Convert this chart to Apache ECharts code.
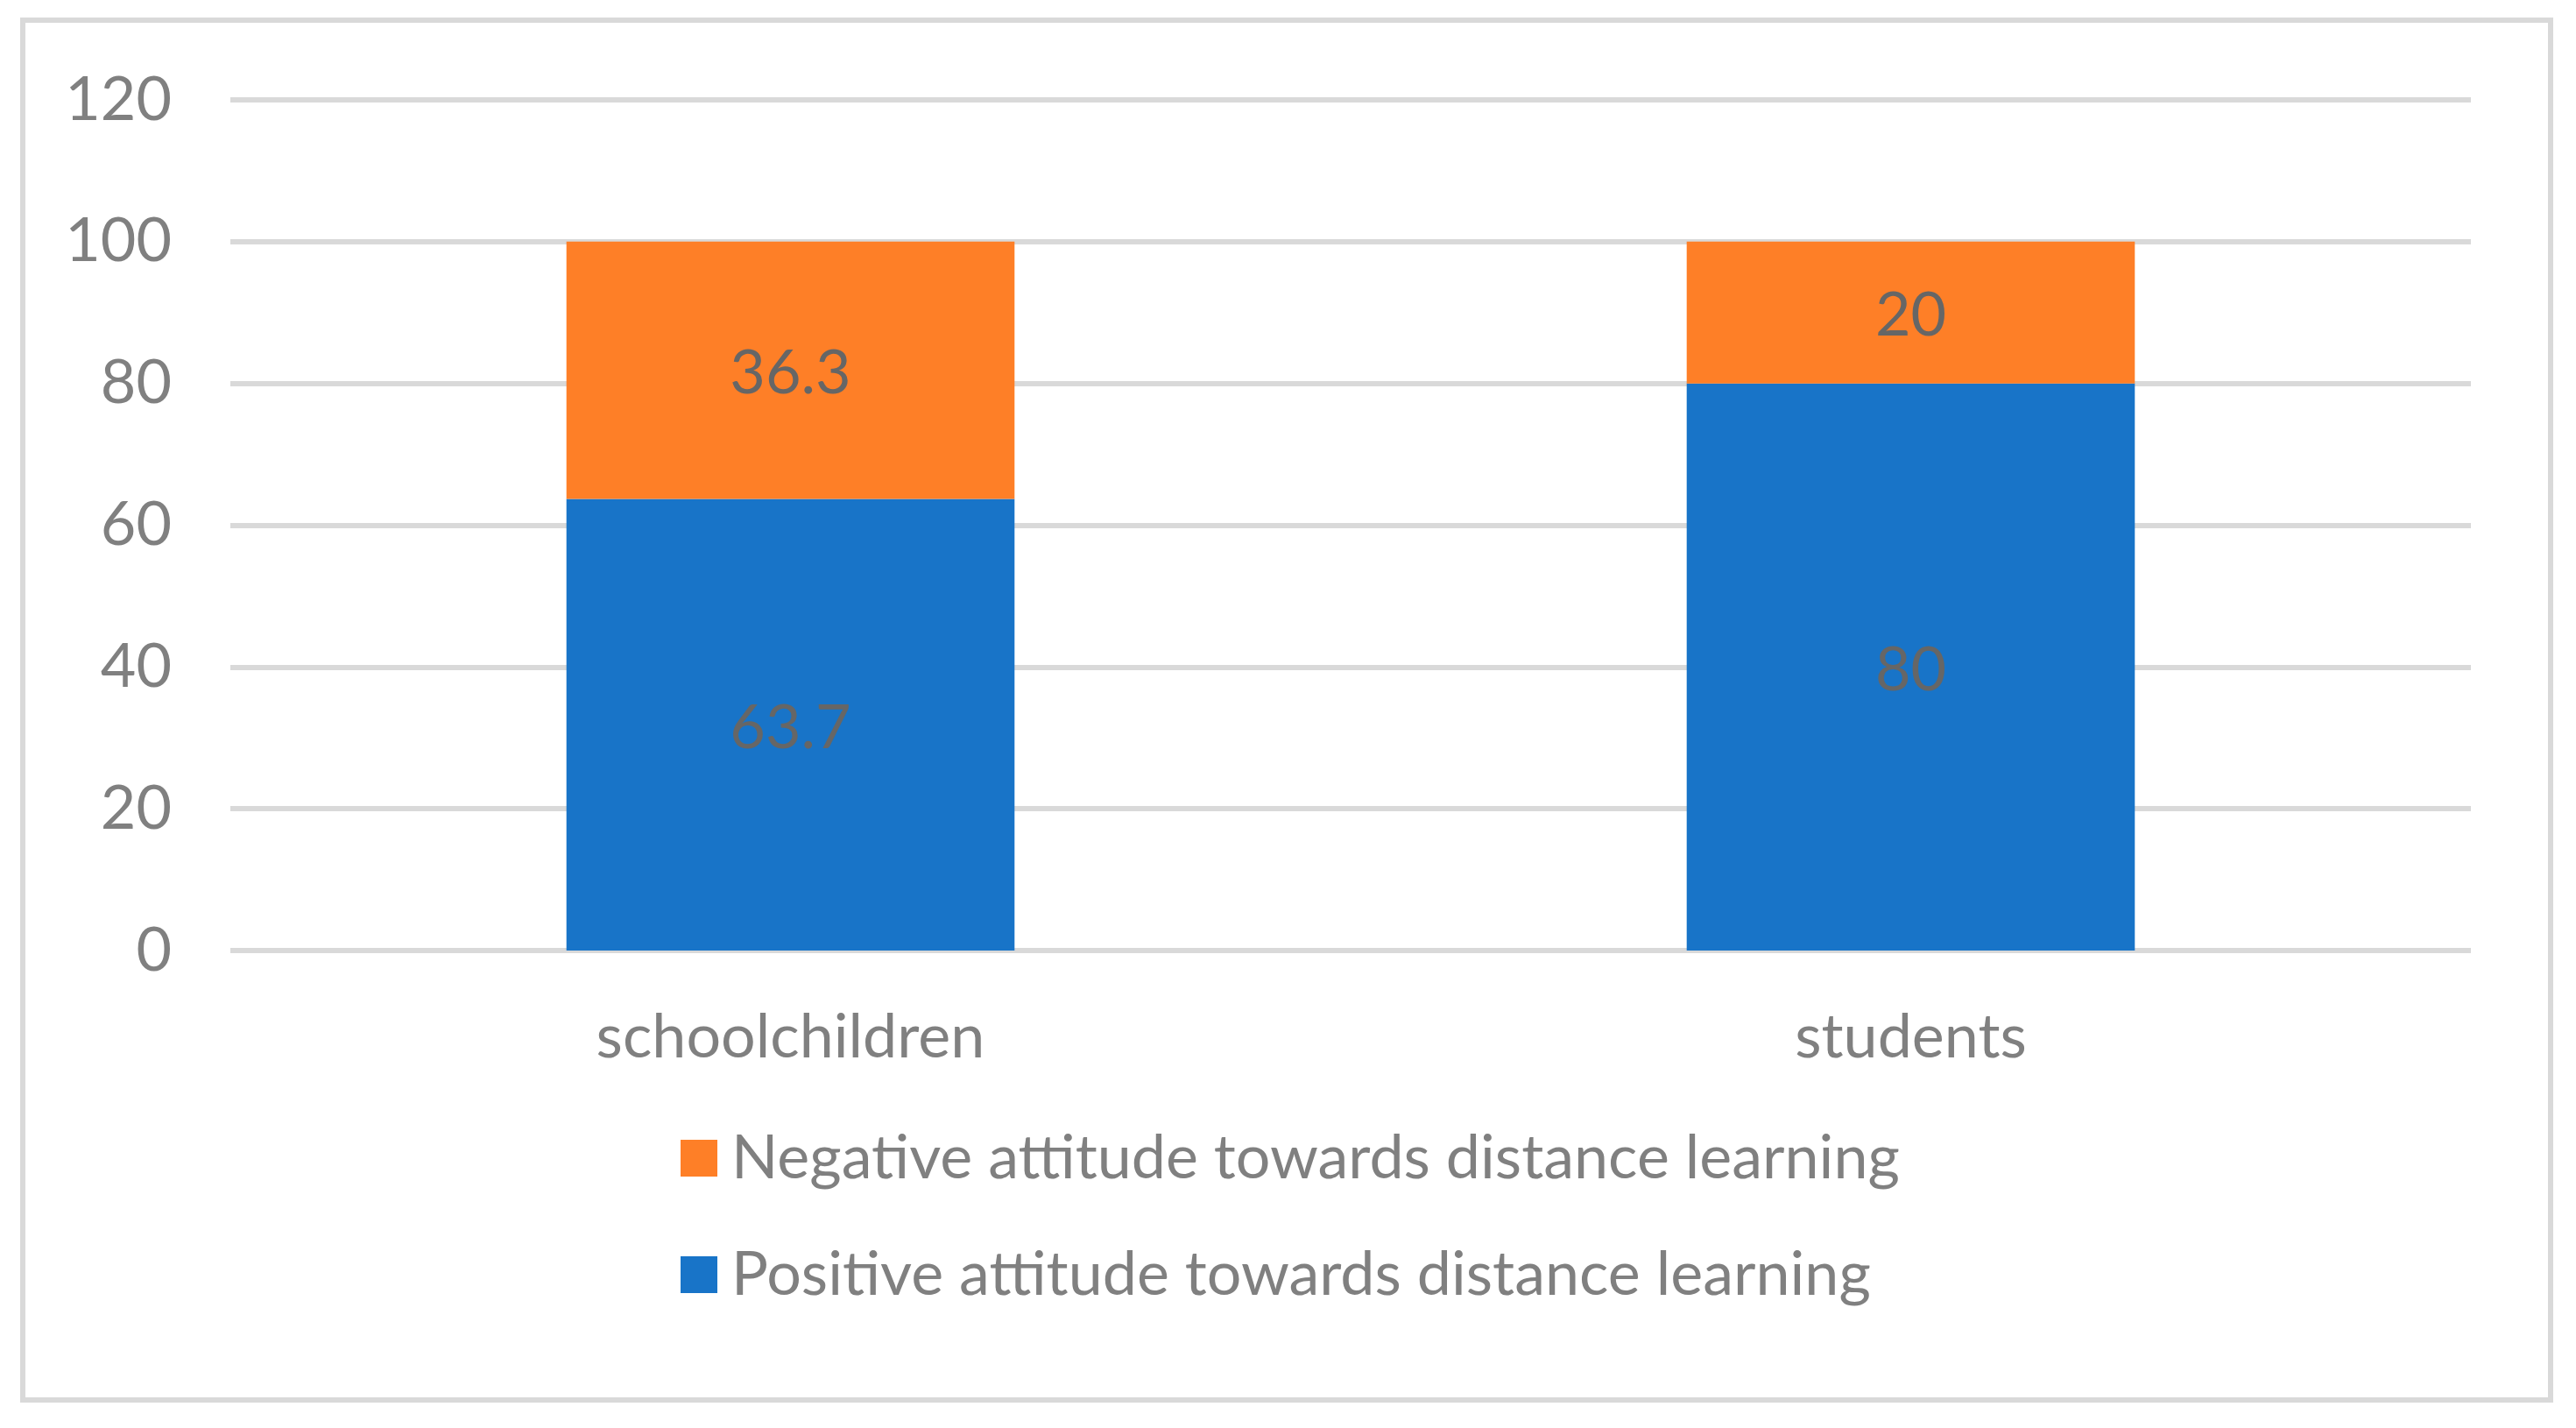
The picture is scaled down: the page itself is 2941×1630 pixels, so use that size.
<!DOCTYPE html>
<html lang="en">
<head>
  <meta charset="utf-8">
  <title>Attitude towards distance learning</title>
  <style>
    html, body { margin: 0; padding: 0; background: #fff; }
    #chart1 { width: 2941px; height: 1630px; }
  </style>
</head>
<body>
<script src="https://cdn.jsdelivr.net/npm/echarts@6/dist/echarts.min.js"></script>
<div id="chart1"></div>

<script>
  // data
  var categories = ['schoolchildren', 'students'];
  var positiveVals = [63.7, 80];
  var negativeVals = [36.3, 20];
  var yTicks = [0, 20, 40, 60, 80, 100, 120];

  var nameNeg = 'Negative attitude towards distance learning';
  var namePos = 'Positive attitude towards distance learning';

  var fontFam = 'Lato, "Open Sans", sans-serif';
  var gray = '#808080';
  var lineGray = '#d9d9d9';

  var chart1 = echarts.init(document.getElementById('chart1'));

  var option = {
    animation: false,
    textStyle: { fontFamily: fontFam },
    grid: { left: 263, right: 120, top: 114, bottom: 545 },
    graphic: [{
      type: 'rect',
      shape: { x: 26, y: 23, width: 2886, height: 1575 },
      style: { fill: 'none', stroke: lineGray, lineWidth: 6 },
      z: -1
    }],
    legend: {
      orient: 'vertical',
      left: 772,
      top: 1282,
      itemWidth: 42,
      itemHeight: 42,
      itemGap: 63,
      icon: 'rect',
      data: [nameNeg, namePos],
      textStyle: { color: gray, fontSize: 70, fontFamily: fontFam, padding: [0, 0, 0, 11] }
    },
    xAxis: {
      type: 'category',
      data: categories,
      axisTick: { show: false },
      axisLine: { show: false },
      axisLabel: { color: gray, fontSize: 70, margin: 64 }
    },
    yAxis: {
      type: 'value',
      min: yTicks[0],
      max: yTicks[yTicks.length - 1],
      interval: yTicks[1] - yTicks[0],
      axisLine: { show: false },
      axisTick: { show: false },
      axisLabel: { color: gray, fontSize: 70, margin: 67 },
      splitLine: { lineStyle: { color: lineGray, width: 6 } }
    },
    series: [
      {
        name: namePos,
        type: 'bar',
        stack: 'total',
        barWidth: '40%',
        data: positiveVals,
        itemStyle: { color: '#1874c8' },
        label: { show: true, position: 'inside', color: '#666666', fontSize: 70, offset: [0, 4] }
      },
      {
        name: nameNeg,
        type: 'bar',
        stack: 'total',
        barWidth: '40%',
        data: negativeVals,
        itemStyle: { color: '#fe7f27' },
        label: { show: true, position: 'inside', color: '#666666', fontSize: 70, offset: [0, 4] }
      }
    ]
  };
  chart1.setOption(option);
</script>
</body>
</html>
